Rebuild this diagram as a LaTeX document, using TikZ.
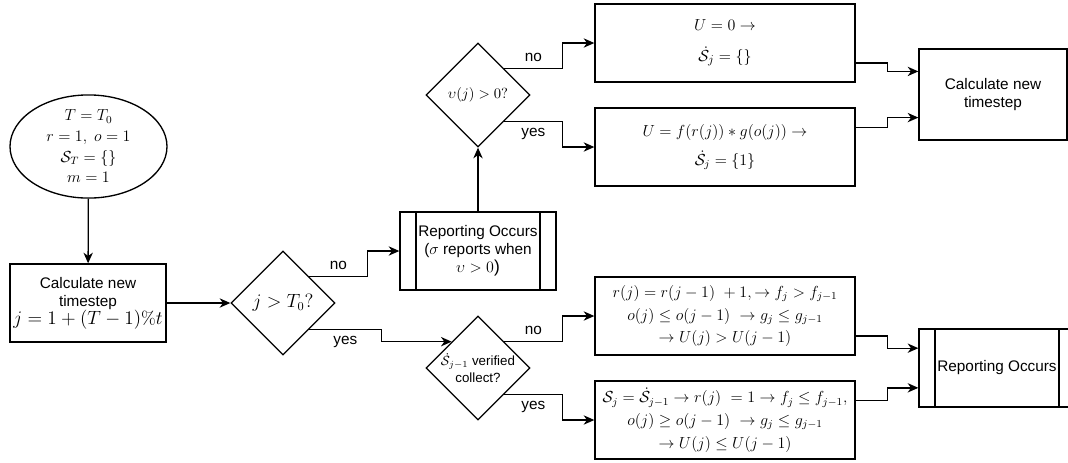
\documentclass[tikz,border=0pt]{standalone}
\usepackage{amsmath,amssymb}
\usepackage{fontspec}
\setsansfont{Liberation Sans}
\usepackage{tikz}
\usetikzlibrary{arrows.meta}
\usetikzlibrary{shapes.geometric}
\usetikzlibrary{calc}

\begin{document}
\begin{tikzpicture}[
    x=0.75pt, y=-0.75pt,
    >={Stealth[length=8pt,width=7pt,inset=2.5pt]},
    font=\sffamily\fontsize{11.5}{13.5}\selectfont,
    start/.style={draw,ellipse,line width=1pt,minimum width=117.75pt,minimum height=77.25pt,inner sep=0pt,align=center},
    process/.style={draw,line width=1pt,minimum width=117pt,minimum height=58.5pt,inner sep=2pt,align=center},
    wide process/.style={process,minimum width=195pt,font=\fontsize{11.5}{17}\selectfont},
    decision/.style={draw,diamond,aspect=1,line width=1pt,minimum width=78pt,minimum height=78pt,inner sep=-4pt,align=center},
    predefined/.style={process,path picture={
        \draw[line width=1pt] ([xshift=12pt]path picture bounding box.north west) -- ([xshift=12pt]path picture bounding box.south west);
        \draw[line width=1pt] ([xshift=-12pt]path picture bounding box.north east) -- ([xshift=-12pt]path picture bounding box.south east);
    }},
    flow/.style={->,line width=1pt},
    branch/.style={inner sep=4.5pt}
    ]
    \useasboundingbox (0,0) rectangle (1068,462);
    % nodes
    % start
    \node [start] (init) at (88.5,146.5) {$T = T_0$\\[2pt] $r = 1,\ o = 1$\\[2pt] $\mathcal{S}_T = \{\}$\\[2pt] $m = 1$};
    % new timestep, left
    \node [process] (calc1) at (88,303) {Calculate new\\ timestep\\ {\fontsize{13.5}{15}\selectfont $j = 1 + (T - 1)\%t$}};
    % j > T0
    \node [decision,font=\fontsize{13.5}{15}\selectfont] (jq) at (283,303) {$j > T_0?$};
    % reporting, top
    \node [predefined] (rep1) at (478,251) {Reporting Occurs\\ ($\sigma$ reports when\\ {\fontsize{13}{15}\selectfont $\upsilon > 0$)}};
    % v(j) > 0
    \node [decision,font=\fontsize{10.5}{12}\selectfont] (vq) at (478,95) {$\upsilon(j) > 0?$};
    % U = 0
    \node [wide process,font=\fontsize{13}{23}\selectfont] (uzero) at (725,43) {$U = 0 \rightarrow$\\ $\dot{\mathcal{S}}_j = \{\}$};
    % U = f g
    \node [wide process,font=\fontsize{11.5}{22}\selectfont] (uprod) at (725,147) {$U = f(r(j)) \ast g(o(j)) \rightarrow$\\ $\dot{\mathcal{S}}_j = \{1\}$};
    % new timestep, right
    \node [process,minimum width=111pt,minimum height=68.25pt] (calc2) at (993,94.5) {Calculate new\\ timestep};
    % collect
    \node [decision,font=\sffamily\fontsize{10}{13}\selectfont] (cq) at (478,368) {$\dot{\mathcal{S}}_{j-1}$ verified\\ collect?};
    % r(j) grows
    \node [wide process] (rise) at (725,316) {$r(j) = r(j-1)\ + 1, \rightarrow f_j > f_{j-1}$\\ $o(j) \le o(j-1)\ \rightarrow g_j \le g_{j-1}$\\ $\rightarrow U(j) > U(j-1)$};
    % r(j) reset
    \node [wide process] (reset) at (725,420) {$\mathcal{S}_j = \dot{\mathcal{S}}_{j-1} \rightarrow r(j)\ = 1 \rightarrow f_j \le f_{j-1},$\\ $o(j) \ge o(j-1)\ \rightarrow g_j \le g_{j-1}$\\ $\rightarrow U(j) \le U(j-1)$};
    % reporting, bottom
    \node [predefined] (rep2) at (997,368) {Reporting Occurs};
    % arcs
    \draw [flow] (init) -- (calc1);
    \draw [flow] (calc1) -- (jq);
    \draw [flow] (jq.north east) -- ++(58,0) node [midway,above,branch] {no} |- (rep1.west);
    \draw [flow] (jq.south east) -- ++(72,0) node [midway,below,branch] {yes} |- (cq.north west);
    \draw [flow] (rep1) -- (vq);
    \draw [flow] (vq.north east) -- ++(58,0) node [midway,above,branch] {no} |- (uzero.west);
    \draw [flow] (vq.south east) -- ++(58,0) node [midway,below,branch] {yes} |- (uprod.west);
    \draw [flow] (cq.north east) -- ++(58,0) node [midway,above,branch] {no} |- (rise.west);
    \draw [flow] (cq.south east) -- ++(58,0) node [midway,below,branch] {yes} |- (reset.west);
    % into the right column
    \draw [flow] ($(uzero.north east)!.75!(uzero.south east)$) -- ++(32,0) |- ($(calc2.north west)!.25!(calc2.south west)$);
    \draw [flow] ($(uprod.north east)!.25!(uprod.south east)$) -- ++(32,0) |- ($(calc2.north west)!.75!(calc2.south west)$);
    \draw [flow] ($(rise.north east)!.75!(rise.south east)$) -- ++(32,0) |- ($(rep2.north west)!.25!(rep2.south west)$);
    \draw [flow] ($(reset.north east)!.25!(reset.south east)$) -- ++(32,0) |- ($(rep2.north west)!.75!(rep2.south west)$);
\end{tikzpicture}
\end{document}
